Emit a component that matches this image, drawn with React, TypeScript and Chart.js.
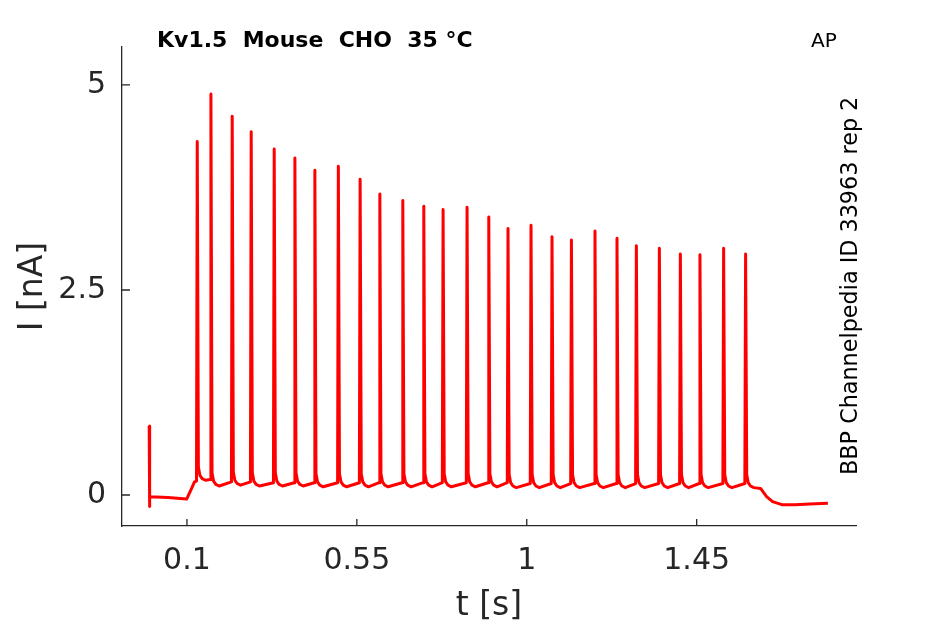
import { useEffect, useRef } from 'react'
import { Chart, registerables } from 'chart.js'

Chart.register(...registerables)

// spike train (t in s, I in nA)
const spikeTimes = [0.1273, 0.1635, 0.2199, 0.2702, 0.3311, 0.3859, 0.4388, 0.501, 0.5587, 0.6109, 0.6717, 0.7273, 0.7784, 0.8419, 0.8994, 0.9504, 1.0113, 1.0669, 1.1183, 1.1807, 1.239, 1.2903, 1.3512, 1.4068, 1.4587, 1.5214, 1.5796]
const spikePeaks = [4.31, 4.89, 4.62, 4.43, 4.22, 4.11, 3.96, 4.01, 3.85, 3.67, 3.59, 3.52, 3.48, 3.51, 3.39, 3.25, 3.29, 3.15, 3.11, 3.22, 3.13, 3.04, 3.01, 2.94, 2.93, 3.01, 2.94]
const spikePre = [0.17, 0.19, 0.16, 0.16, 0.15, 0.15, 0.15, 0.15, 0.15, 0.15, 0.15, 0.15, 0.15, 0.15, 0.15, 0.15, 0.14, 0.14, 0.14, 0.14, 0.14, 0.14, 0.14, 0.14, 0.14, 0.14, 0.14]
const spikeTrough = [0.18, 0.11, 0.12, 0.11, 0.11, 0.11, 0.1, 0.1, 0.1, 0.1, 0.1, 0.1, 0.1, 0.1, 0.1, 0.09, 0.09, 0.09, 0.09, 0.09, 0.09, 0.09, 0.09, 0.09, 0.09, 0.09, 0.09]
// decay after each peak: [dt after peak, current above trough]
const spikeTail = [[0.003, 0.16], [0.007, 0.06], [0.013, 0.02], [0.022, 0]]

// before the train and after it
const startT = [0, 0.0004, 0.002, 0.05, 0.0992, 0.1124, 0.12]
const startI = [0.84, -0.14, -0.02, -0.03, -0.05, 0.08, 0.16]
const endT = [1.6193, 1.6352, 1.6511, 1.6776, 1.7093, 1.7491, 1.7976]
const endI = [0.08, -0.02, -0.08, -0.12, -0.12, -0.11, -0.1]

const xTickValues = [0.1, 0.55, 1, 1.45]
const yTickValues = [0, 2.5, 5]

const FONT = 'DejaVu Sans'
const AXIS = '#262626'

export default function App() {
  const chartRef = useRef<HTMLCanvasElement>(null)
  const chartInstance = useRef<Chart | null>(null)

  useEffect(() => {
    document.body.style.margin = '0'
    if (!chartRef.current) return
    if (chartInstance.current) chartInstance.current.destroy()
    const ctx = chartRef.current.getContext('2d')
    if (!ctx) return

    const trace: { x: number; y: number }[] = []
    startT.forEach((t, i) => trace.push({ x: t, y: startI[i] }))
    spikeTimes.forEach((t, i) => {
      trace.push({ x: t - 0.002, y: spikePre[i] })
      trace.push({ x: t, y: spikePeaks[i] })
      spikeTail.forEach(([dt, dy]) => trace.push({ x: t + dt, y: spikeTrough[i] + dy }))
    })
    endT.forEach((t, i) => trace.push({ x: t, y: endI[i] }))

    const annotations = {
      id: 'annotations',
      afterDraw(chart: any) {
        const c = chart.ctx
        const { left, bottom } = chart.chartArea
        const xs = chart.scales.x
        const ys = chart.scales.y
        c.save()
        // inward tick marks
        c.strokeStyle = AXIS
        c.lineWidth = 1.3
        c.beginPath()
        xTickValues.forEach(v => {
          const px = xs.getPixelForValue(v)
          c.moveTo(px, bottom)
          c.lineTo(px, bottom - 7)
        })
        yTickValues.forEach(v => {
          const py = ys.getPixelForValue(v)
          c.moveTo(left, py)
          c.lineTo(left + 8, py)
        })
        c.stroke()

        c.fillStyle = '#000'
        c.textBaseline = 'alphabetic'
        c.textAlign = 'left'
        c.font = `bold 22px "${FONT}"`
        c.fillText('Kv1.5  Mouse  CHO  35 °C', 157, 47)
        c.font = `20px "${FONT}"`
        c.fillText('AP', 811, 47)

        c.translate(857, 475)
        c.rotate(-Math.PI / 2)
        c.font = `22.3px "${FONT}"`
        c.fillText('BBP Channelpedia ID 33963 rep 2', 0, 0)
        c.restore()
      },
    }

    chartInstance.current = new Chart(ctx, {
      type: 'line',
      data: {
        datasets: [
          {
            data: trace,
            borderColor: '#ff0000',
            borderWidth: 3,
            borderJoinStyle: 'round',
            pointRadius: 0,
            tension: 0,
            fill: false,
          },
        ],
      },
      options: {
        responsive: false,
        animation: false,
        layout: { padding: { left: 0, right: 89, top: 47, bottom: 0 } },
        plugins: {
          legend: { display: false },
          tooltip: { enabled: false },
        },
        scales: {
          x: {
            type: 'linear',
            min: -0.072,
            max: 1.872,
            afterFit: (scale: any) => {
              scale.height = 98
            },
            afterBuildTicks: (scale: any) => {
              scale.ticks = xTickValues.map(v => ({ value: v }))
            },
            grid: { display: false, drawTicks: false },
            border: { display: true, color: AXIS, width: 1.3 },
            ticks: {
              padding: 17,
              color: AXIS,
              font: { family: FONT, size: 30 },
              callback: (v: any) => String(v),
            },
            title: {
              display: true,
              text: 't [s]',
              color: AXIS,
              font: { family: FONT, size: 33, lineHeight: 1.05 },
              padding: { top: 0, bottom: 0 },
            },
          },
          y: {
            type: 'linear',
            min: -0.378,
            max: 5.463,
            afterFit: (scale: any) => {
              scale.width = 122
            },
            afterBuildTicks: (scale: any) => {
              scale.ticks = yTickValues.map(v => ({ value: v }))
            },
            grid: { display: false, drawTicks: false },
            border: { display: true, color: AXIS, width: 1.3 },
            ticks: {
              padding: 16,
              color: AXIS,
              font: { family: FONT, size: 30 },
              callback: (v: any) => String(v),
            },
            title: {
              display: true,
              text: 'I [nA]',
              color: AXIS,
              font: { family: FONT, size: 33 },
              padding: { top: 14, bottom: 0 },
            },
          },
        },
      },
      plugins: [annotations],
    } as any)

    return () => {
      if (chartInstance.current) {
        chartInstance.current.destroy()
        chartInstance.current = null
      }
    }
  }, [])

  return <canvas ref={chartRef} width={945} height={624} />
}
